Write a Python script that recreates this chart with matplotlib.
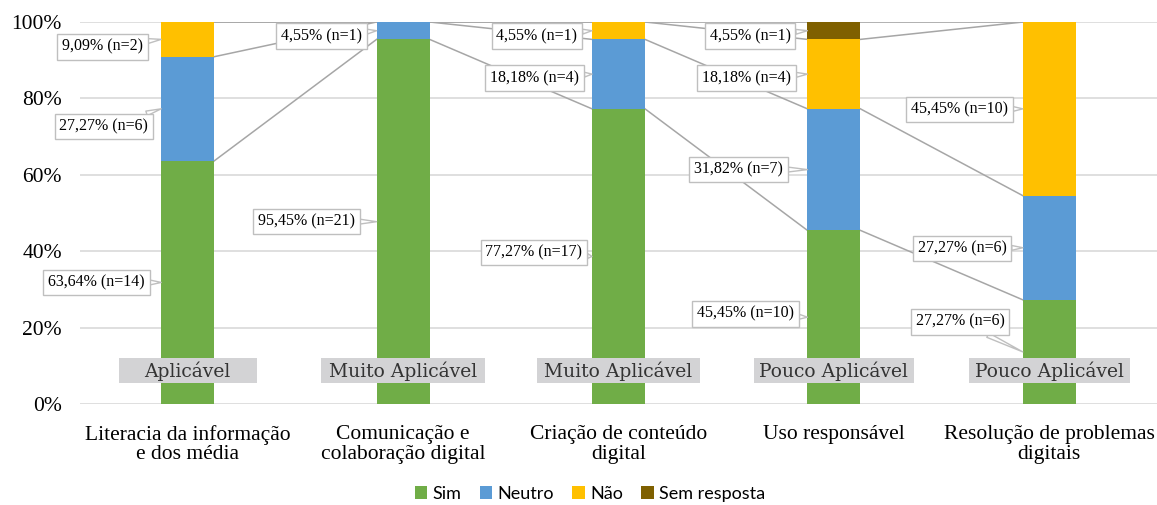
import matplotlib.pyplot as plt
from matplotlib.patches import Rectangle
import numpy as np

plt.rcParams['font.family'] = ['Liberation Serif', 'DejaVu Serif']

# data (percent of n=22)
categories = ['Literacia da informação\ne dos média',
              'Comunicação e\ncolaboração digital',
              'Criação de conteúdo\ndigital',
              'Uso responsável',
              'Resolução de problemas\ndigitais']
series_names = ['Sim', 'Neutro', 'Não', 'Sem resposta']
sim = [63.64, 95.45, 77.27, 45.45, 27.27]
neutro = [27.27, 4.55, 18.18, 31.82, 27.27]
nao = [9.09, 0.0, 4.55, 18.18, 45.45]
sem_resposta = [0.0, 0.0, 0.0, 4.55, 0.0]
sim_n = [14, 21, 17, 10, 6]
neutro_n = [6, 1, 4, 7, 6]
nao_n = [2, 0, 1, 4, 10]
sem_n = [0, 0, 0, 1, 0]
ratings = ['Aplicável', 'Muito Aplicável', 'Muito Aplicável',
           'Pouco Aplicável', 'Pouco Aplicável']

colors = ['#70AD47', '#5B9BD5', '#FFC000', '#7F6000']

# where the callout boxes sit (data coords), one list per series
label_x = [[-0.423, 0.551, 1.607, 2.590, 3.586],
           [-0.389, 0.621, 1.611, 2.558, 3.595],
           [-0.396, None, 1.621, 2.595, 3.582],
           [None, None, None, 2.611, None]]
label_y = [[31.8, 47.8, 39.7, 23.6, 21.5],
           [72.6, 96.3, 85.3, 61.4, 40.7],
           [93.5, None, 96.3, 85.3, 77.1],
           [None, None, None, 96.3, None]]
# widths of the grey rating tags (in category units)
tag_w = [0.64, 0.765, 0.755, 0.745, 0.745]

values = np.array([sim, neutro, nao, sem_resposta])
counts = [sim_n, neutro_n, nao_n, sem_n]
x = np.arange(len(categories))
w = 0.246

fig = plt.figure(figsize=(11.57, 5.05), dpi=100)
ax = fig.add_axes([80 / 1157, 0.2, 1 - 80 / 1157, 1 - 0.2 - 22 / 505])

bottom = np.zeros(len(categories))
tops = []
for k, name in enumerate(series_names):
    ax.bar(x, values[k], w, bottom=bottom, color=colors[k], label=name, zorder=3)
    bottom = bottom + values[k]
    tops.append(bottom.copy())

# series lines between neighbouring bars
for k in range(len(series_names)):
    for i in range(len(categories) - 1):
        ax.plot([x[i] + w / 2, x[i + 1] - w / 2], [tops[k][i], tops[k][i + 1]],
                color='#A6A6A6', lw=1.1, zorder=2)

# callout labels
for k in range(len(series_names)):
    for i in range(len(categories)):
        if values[k][i] <= 0:
            continue
        mid = tops[k][i] - values[k][i] / 2
        txt = '{:.2f}% (n={})'.format(values[k][i], counts[k][i]).replace('.', ',')
        ax.annotate(txt, xy=(x[i] - w / 2, mid), xytext=(label_x[k][i], label_y[k][i]),
                    ha='center', va='center', fontsize=11.5, color='#000000', zorder=5,
                    bbox=dict(boxstyle='square,pad=0.3', fc='white', ec='#BFBFBF', lw=1),
                    arrowprops=dict(arrowstyle='wedge,tail_width=0.3', fc='white',
                                    ec='#BFBFBF', lw=1, shrinkA=0, shrinkB=0))

# rating tags inside bars
for i, r in enumerate(ratings):
    ax.add_patch(Rectangle((x[i] - tag_w[i] / 2, 5.6), tag_w[i], 6.4,
                           fc='#D3D3D5', ec='none', zorder=6))
    ax.text(x[i], 8.6, r, ha='center', va='center', fontsize=13.5,
            family='DejaVu Serif', color='#333333', zorder=7)

ax.set_xlim(-0.5, len(categories) - 0.5)
ax.set_ylim(0, 100)
ax.set_yticks(np.arange(0, 101, 20))
ax.set_yticklabels(['{}%'.format(v) for v in range(0, 101, 20)], fontsize=15.5)
ax.set_xticks(x)
ax.set_xticklabels(categories, fontsize=15.5, linespacing=1.05)
ax.tick_params(length=0, colors='#000000')
ax.tick_params(axis='x', pad=15)
ax.tick_params(axis='y', pad=13)
ax.grid(axis='y', color='#D9D9D9', lw=1.2, zorder=0)
for s in ax.spines.values():
    s.set_visible(False)

fig.legend(loc='center', bbox_to_anchor=(0.51, 1 - 494 / 505), ncol=4,
           frameon=False, prop={'family': 'Lato', 'size': 13},
           handlelength=0.7, handleheight=0.7, handletextpad=0.3, columnspacing=1.0)

fig.savefig('out.png', dpi=100)
